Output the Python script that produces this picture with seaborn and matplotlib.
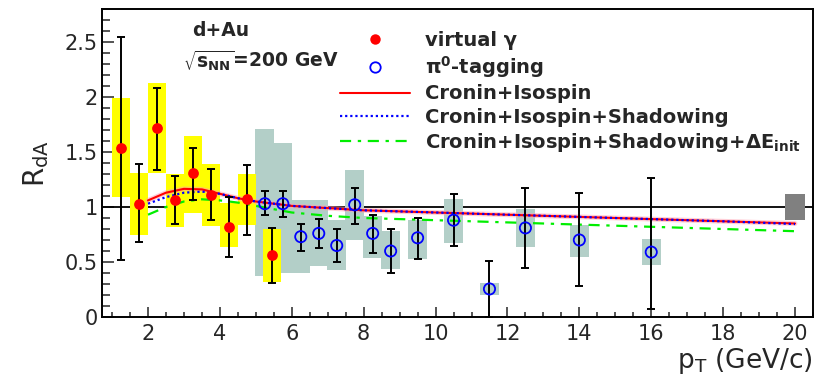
import numpy as np
import pandas as pd
import matplotlib
matplotlib.use("Agg")
import matplotlib.pyplot as plt
from matplotlib.lines import Line2D
from matplotlib.ticker import MultipleLocator, FuncFormatter
import seaborn as sns

# ---------------- data ----------------
# virtual photon (red points, yellow systematic boxes)
vg_x = [1.25, 1.75, 2.25, 2.75, 3.25, 3.75, 4.25, 4.75, 5.45]
vg_y = [1.54, 1.03, 1.72, 1.06, 1.31, 1.11, 0.82, 1.07, 0.56]
vg_err_lo = [0.52, 0.68, 1.34, 0.85, 1.06, 0.88, 0.55, 0.75, 0.31]
vg_err_hi = [2.55, 1.39, 2.08, 1.28, 1.54, 1.35, 1.09, 1.38, 0.81]
vg_sys_lo = [1.09, 0.745, 1.31, 0.82, 0.95, 0.83, 0.64, 0.84, 0.32]
vg_sys_hi = [1.99, 1.31, 2.13, 1.30, 1.65, 1.39, 1.04, 1.30, 0.80]

# pi0 tagging (blue open circles, grey systematic boxes)
pi_x = [5.25, 5.75, 6.25, 6.75, 7.25, 7.75, 8.25, 8.75, 9.5, 10.5, 11.5, 12.5, 14.0, 16.0]
pi_y = [1.03, 1.03, 0.73, 0.76, 0.65, 1.02, 0.76, 0.60, 0.72, 0.88, 0.255, 0.81, 0.70, 0.59]
pi_err_lo = [0.93, 0.91, 0.60, 0.63, 0.50, 0.85, 0.58, 0.40, 0.53, 0.65, 0.0, 0.45, 0.285, 0.07]
pi_err_hi = [1.15, 1.15, 0.85, 0.89, 0.80, 1.17, 0.93, 0.80, 0.90, 1.12, 0.51, 1.17, 1.13, 1.26]
pi_sys_lo = [0.37, 0.40, 0.40, 0.46, 0.43, 0.70, 0.54, 0.44, 0.53, 0.67, 0.20, 0.64, 0.55, 0.47]
pi_sys_hi = [1.71, 1.58, 1.06, 1.06, 0.88, 1.34, 0.92, 0.78, 0.88, 1.07, 0.31, 0.98, 0.84, 0.71]

# normalisation uncertainty box
norm_x = [20.0]
norm_lo = [0.88]
norm_hi = [1.12]

# theory curves
th_x = [2, 2.5, 3, 3.5, 4, 4.5, 5, 6, 7, 8, 10, 12, 14, 16, 18, 20]
th_cronin = [1.06, 1.13, 1.165, 1.16, 1.12, 1.08, 1.05, 1.01, 0.99, 0.97, 0.95, 0.93, 0.91, 0.89, 0.87, 0.85]
th_shadow = [1.03, 1.09, 1.13, 1.14, 1.12, 1.08, 1.05, 1.01, 0.99, 0.97, 0.95, 0.93, 0.91, 0.89, 0.87, 0.845]
th_eloss = [0.93, 1.00, 1.05, 1.07, 1.06, 1.04, 1.01, 0.95, 0.92, 0.90, 0.88, 0.86, 0.84, 0.82, 0.80, 0.78]

legend_labels = ["virtual γ", r"$\mathbf{\pi^{0}}$-tagging", "Cronin+Isospin",
                 "Cronin+Isospin+Shadowing",
                 r"Cronin+Isospin+Shadowing+$\mathbf{\Delta E_{init}}$"]

# ---------------- style ----------------
sns.set_style("white")
plt.rcParams["font.family"] = ["DejaVu Sans"]
plt.rcParams["mathtext.fontset"] = "dejavusans"

fig = plt.figure(figsize=(8.21, 3.78), dpi=100)
ax = fig.add_axes([102 / 821, 1 - 317 / 378, 711 / 821, 308 / 378])

YELLOW = "#ffff00"
GREY = "#b3cfc8"

ax.axhline(1.0, color="black", lw=1.3, zorder=1)

# systematic boxes
ax.bar(pi_x, np.subtract(pi_sys_hi, pi_sys_lo), bottom=pi_sys_lo, width=0.52,
       color=GREY, linewidth=0, zorder=2)
ax.bar(vg_x, np.subtract(vg_sys_hi, vg_sys_lo), bottom=vg_sys_lo, width=0.52,
       color=YELLOW, linewidth=0, zorder=2.5)
ax.bar(norm_x, np.subtract(norm_hi, norm_lo), bottom=norm_lo, width=0.54,
       color="#808080", linewidth=0, zorder=2.5)

# theory curves
th = pd.DataFrame({"pt": th_x, "cronin": th_cronin, "shadow": th_shadow, "eloss": th_eloss})
sns.lineplot(data=th, x="pt", y="cronin", ax=ax, color="#ff9fb0", lw=3.5, alpha=0.5, zorder=3)
sns.lineplot(data=th, x="pt", y="cronin", ax=ax, color="red", lw=1.5, zorder=3.1)
sns.lineplot(data=th, x="pt", y="shadow", ax=ax, color="blue", lw=1.6, zorder=3.2,
             linestyle=(0, (1, 1.3)))
sns.lineplot(data=th, x="pt", y="eloss", ax=ax, color="#00ee00", lw=1.6, zorder=3.2,
             linestyle=(0, (5, 3, 1.5, 3)))

# statistical error bars
vg_y_a = np.array(vg_y)
ax.errorbar(vg_x, vg_y, yerr=[vg_y_a - np.array(vg_err_lo), np.array(vg_err_hi) - vg_y_a],
            fmt="none", ecolor="black", elinewidth=1.4, capsize=2.6, capthick=1.4, zorder=4)
pi_y_a = np.array(pi_y)
ax.errorbar(pi_x, pi_y, yerr=[pi_y_a - np.array(pi_err_lo), np.array(pi_err_hi) - pi_y_a],
            fmt="none", ecolor="black", elinewidth=1.4, capsize=2.6, capthick=1.4, zorder=4)

# points
vg = pd.DataFrame({"pt": vg_x, "r": vg_y})
pi = pd.DataFrame({"pt": pi_x, "r": pi_y})
sns.scatterplot(data=vg, x="pt", y="r", ax=ax, color="red", s=60, linewidth=0, zorder=5)
sns.scatterplot(data=pi, x="pt", y="r", ax=ax, facecolor="none", edgecolor="blue",
                s=65, linewidth=1.3, zorder=5)

# axes
ax.set_xlim(0.72, 20.5)
ax.set_ylim(0, 2.8)
ax.xaxis.set_major_locator(MultipleLocator(2))
ax.xaxis.set_minor_locator(MultipleLocator(0.5))
ax.yaxis.set_major_locator(MultipleLocator(0.5))
ax.yaxis.set_minor_locator(MultipleLocator(0.1))
ax.yaxis.set_major_formatter(FuncFormatter(lambda v, p: "%g" % v))
ax.xaxis.set_major_formatter(FuncFormatter(lambda v, p: "%g" % v))
ax.tick_params(axis="y", which="major", direction="in", length=8.6, width=1.1,
               labelsize=15, pad=3, left=True, right=False)
ax.tick_params(axis="y", which="minor", direction="in", length=5.5, width=1.1, left=True, right=False)
ax.tick_params(axis="x", which="major", direction="in", length=7, width=1.1,
               labelsize=15, pad=5, bottom=True, top=False)
ax.tick_params(axis="x", which="minor", direction="in", length=3.6, width=1.1, bottom=True, top=False)
for s in ax.spines.values():
    s.set_color("black")
    s.set_linewidth(1.4)

ax.set_ylabel(r"R$_{\mathrm{dA}}$", fontsize=20)
ax.yaxis.set_label_coords(-0.072, 0.5)
ax.set_xlabel(r"p$_{\mathrm{T}}$ (GeV/c)", fontsize=19, loc="right")
ax.xaxis.set_label_coords(1.0, -0.093)

# annotations
ax.text(3.22, 2.60, "d+Au", fontsize=13.5, fontweight="bold", va="center", ha="left")
ax.text(2.97, 2.33, r"$\sqrt{\mathbf{s}_{\mathbf{NN}}}$=200 GeV", fontsize=13.5,
        fontweight="bold", va="center", ha="left")

# legend
handles = [
    Line2D([], [], marker="o", color="red", linestyle="none", markersize=7.5, markeredgewidth=0),
    Line2D([], [], marker="o", markerfacecolor="none", markeredgecolor="blue", linestyle="none",
           markersize=7.5, markeredgewidth=1.3),
    Line2D([], [], color="red", lw=1.5),
    Line2D([], [], color="blue", lw=1.6, linestyle=(0, (1, 1.3))),
    Line2D([], [], color="#00ee00", lw=1.6, linestyle=(0, (5, 3, 1.5, 3))),
]
fig.legend(handles, legend_labels, loc="upper left", bbox_to_anchor=(340 / 821, 1 - 31 / 378),
           frameon=False, prop={"size": 14, "weight": "bold"}, handlelength=3.6,
           handletextpad=0.75, labelspacing=0.22, borderpad=0, borderaxespad=0)

fig.savefig("out.png", dpi=100)
